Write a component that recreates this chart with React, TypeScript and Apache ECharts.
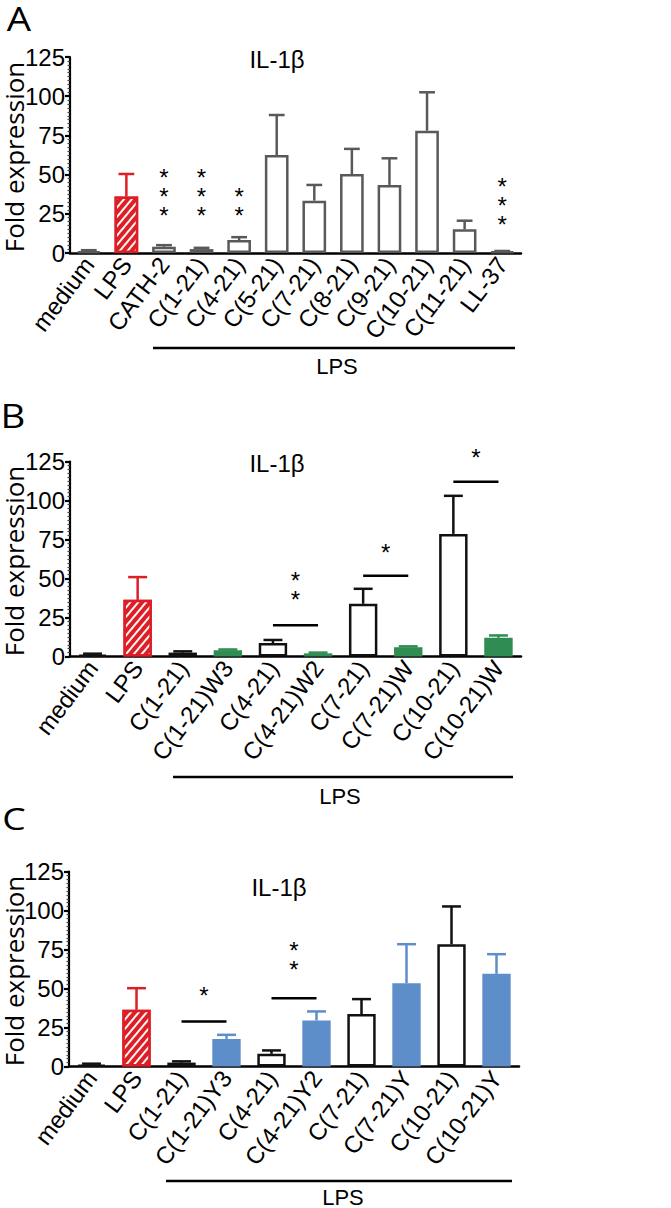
import React, { useEffect, useRef } from "react";
import * as echarts from "echarts";

// ---------- DATA ----------
const catsA = ["medium", "LPS", "CATH-2", "C(1-21)", "C(4-21)", "C(5-21)", "C(7-21)", "C(8-21)", "C(9-21)", "C(10-21)", "C(11-21)", "LL-37"];
const meanA = [1, 36, 4, 2.5, 8.3, 62.5, 33.4, 50.4, 43.4, 78, 15.1, 0.8];
const sdA = [0.8, 14.4, 1, 0.8, 1.8, 25.5, 10, 16, 17, 24.5, 5.5, 0.5];
const kindsA = ["ctrl", "lps", "open", "open", "open", "open", "open", "open", "open", "open", "open", "ctrl"];
// star stacks: [from, to, centre height, number of stars]
const starsA: [string, string, number, number][] = [
  ["CATH-2", "CATH-2", 39, 3],
  ["C(1-21)", "C(1-21)", 39, 3],
  ["C(4-21)", "C(4-21)", 33, 2],
  ["LL-37", "LL-37", 33.5, 3],
];

const catsB = ["medium", "LPS", "C(1-21)", "C(1-21)W3", "C(4-21)", "C(4-21)W2", "C(7-21)", "C(7-21)W", "C(10-21)", "C(10-21)W"];
const meanB = [1, 36.3, 2.5, 4, 8.6, 2, 33.8, 6, 78.6, 12];
const sdB = [0.8, 14.6, 0.8, 0.5, 2, 0.5, 9.6, 0.5, 24.4, 1.5];
const kindsB = ["ctrl", "lps", "open", "green", "open", "green", "open", "green", "open", "green"];
// significance bars: [from, to, height]
const sigLinesB: [string, string, number][] = [
  ["C(4-21)", "C(4-21)W2", 20],
  ["C(7-21)", "C(7-21)W", 51.7],
  ["C(10-21)", "C(10-21)W", 112],
];
const sigStarsB: [string, string, number, number][] = [
  ["C(4-21)", "C(4-21)W2", 46, 2],
  ["C(7-21)", "C(7-21)W", 69.7, 1],
  ["C(10-21)", "C(10-21)W", 130.6, 1],
];

const catsC = ["medium", "LPS", "C(1-21)", "C(1-21)Y3", "C(4-21)", "C(4-21)Y2", "C(7-21)", "C(7-21)Y", "C(10-21)", "C(10-21)Y"];
const meanC = [1, 36.3, 2.5, 17.7, 8.1, 29.5, 33.6, 53.4, 78.4, 59.4];
const sdC = [0.8, 13.9, 0.8, 2.6, 2.2, 5.8, 9.6, 25, 24.2, 12.6];
const kindsC = ["ctrl", "lps", "open", "blue", "open", "blue", "open", "blue", "open", "blue"];
const sigLinesC: [string, string, number][] = [
  ["C(1-21)", "C(1-21)Y3", 28.8],
  ["C(4-21)", "C(4-21)Y2", 43.8],
];
const sigStarsC: [string, string, number, number][] = [
  ["C(1-21)", "C(1-21)Y3", 48.7, 1],
  ["C(4-21)", "C(4-21)Y2", 71.4, 2],
];

const yTicks = [0, 25, 50, 75, 100, 125];

// ---------- STYLE / LAYOUT ----------
const SANS = '"Liberation Sans", Arial, sans-serif';
const NARROW = '"Liberation Sans Narrow", "Arial Narrow", "Liberation Sans", Arial, sans-serif';
const OPEN = '"Open Sans", sans-serif';
const RED = "#dc1f26";
const GREEN = "#2f8c52";
const BLUE = "#5e8ec9";

const panels = [
  { cats: catsA, means: meanA, sds: sdA, kinds: kindsA, edge: "#595959",
    stars: starsA, lines: [] as [string, string, number][],
    grid: { left: 70, top: 57, width: 451, height: 196 } },
  { cats: catsB, means: meanB, sds: sdB, kinds: kindsB, edge: "#111",
    stars: sigStarsB, lines: sigLinesB,
    grid: { left: 70, top: 461.5, width: 451, height: 195 } },
  { cats: catsC, means: meanC, sds: sdC, kinds: kindsC, edge: "#111",
    stars: sigStarsC, lines: sigLinesC,
    grid: { left: 69, top: 871.5, width: 450, height: 195 } },
];

function kindStyle(kind: string, edge: string) {
  switch (kind) {
    case "ctrl":
      return { color: edge, borderColor: edge, borderWidth: 2.5 };
    case "lps":
      return {
        color: RED, borderColor: RED, borderWidth: 2.5,
        decal: { symbol: "rect", symbolSize: 1, dashArrayX: [1, 0], dashArrayY: [1.6, 3.4], rotation: -Math.PI / 3.6, color: "rgba(255,255,255,0.95)" },
      };
    case "green":
      return { color: GREEN, borderColor: GREEN, borderWidth: 2.5 };
    case "blue":
      return { color: BLUE, borderColor: BLUE, borderWidth: 2.5 };
    default:
      return { color: "#fff", borderColor: edge, borderWidth: 2.5 };
  }
}
function errColor(kind: string, edge: string) {
  if (kind === "lps") return RED;
  if (kind === "green") return GREEN;
  if (kind === "blue") return BLUE;
  return edge;
}

function buildOption() {
  const grid: any[] = [];
  const xAxis: any[] = [];
  const yAxis: any[] = [];
  const series: any[] = [];

  panels.forEach((p, i) => {
    grid.push({ ...p.grid, containLabel: false });
    xAxis.push({
      type: "category", gridIndex: i, data: p.cats,
      axisLine: { lineStyle: { color: "#000", width: 2.5 } },
      axisTick: { alignWithLabel: true, length: 5, lineStyle: { color: "#000", width: 2.2 } },
      axisLabel: { rotate: 53, color: "#000", fontSize: 24, fontFamily: SANS, margin: 7, interval: 0 },
    });
    yAxis.push({
      type: "value", gridIndex: i, min: 0, max: 125, interval: 25,
      splitLine: { show: false },
      axisLine: { show: true, lineStyle: { color: "#000", width: 2.2 } },
      axisTick: { show: true, length: 5, lineStyle: { color: "#000", width: 2.2 } },
      minorTick: { show: true, splitNumber: 10, length: 2.5, lineStyle: { color: "#444", width: 1.2 } },
      axisLabel: { color: "#000", fontSize: 24, fontFamily: NARROW, margin: 5,
        formatter: (v: number) => (yTicks.includes(v) ? String(v) : "") },
    });

    series.push({
      type: "bar", xAxisIndex: i, yAxisIndex: i, barWidth: "63%", z: 2,
      data: p.means.map((m, j) => ({ value: m, itemStyle: kindStyle(p.kinds[j], p.edge) })),
    });

    series.push({
      type: "custom", xAxisIndex: i, yAxisIndex: i, z: 3,
      encode: { x: 0, y: 1 },
      data: p.means.map((m, j) => [j, m, p.sds[j]]),
      renderItem: (params: any, api: any) => {
        const j = api.value(0), m = api.value(1), s = api.value(2);
        const p0 = api.coord([j, m]);
        const p1 = api.coord([j, m + s]);
        const hw = (api.size([1, 0])[0] * 0.42) / 2;
        const c = errColor(p.kinds[j], p.edge);
        return {
          type: "group",
          children: [
            { type: "line", shape: { x1: p0[0], y1: p0[1], x2: p1[0], y2: p1[1] }, style: { stroke: c, lineWidth: 2.5 } },
            { type: "line", shape: { x1: p1[0] - hw, y1: p1[1], x2: p1[0] + hw, y2: p1[1] }, style: { stroke: c, lineWidth: 2.5 } },
          ],
        };
      },
    });

    if (p.lines.length) {
      series.push({
        type: "custom", xAxisIndex: i, yAxisIndex: i, z: 4, clip: false,
        encode: { x: [0, 1], y: 2 },
        data: p.lines.map(([a, b, y]) => [p.cats.indexOf(a), p.cats.indexOf(b), y]),
        renderItem: (params: any, api: any) => {
          const a = api.coord([api.value(0), api.value(2)]);
          const b = api.coord([api.value(1), api.value(2)]);
          return { type: "line", shape: { x1: a[0], y1: a[1], x2: b[0], y2: b[1] }, style: { stroke: "#000", lineWidth: 2.5 } };
        },
      });
    }
    series.push({
      type: "custom", xAxisIndex: i, yAxisIndex: i, z: 4, clip: false,
      encode: { x: [0, 1], y: 2 },
      data: p.stars.map(([a, b, y, n]) => [p.cats.indexOf(a), p.cats.indexOf(b), y, n]),
      renderItem: (params: any, api: any) => {
        const a = api.coord([api.value(0), api.value(2)]);
        const b = api.coord([api.value(1), api.value(2)]);
        const n = api.value(3);
        return {
          type: "text", x: (a[0] + b[0]) / 2, y: a[1] + 5,
          style: { text: Array(n).fill("*").join("\n"), fill: "#000", font: `24px ${SANS}`, lineHeight: 19,
            align: "center", verticalAlign: "middle" },
        };
      },
    });
  });

  const txt = (text: string, x: number, y: number, font: string, extra: any = {}) => ({
    type: "text", x, y, ...extra,
    style: { text, fill: "#000", font, align: "center", verticalAlign: "middle" },
  });
  const hline = (x1: number, x2: number, y: number) => ({
    type: "line", shape: { x1, y1: y, x2, y2: y }, style: { stroke: "#000", lineWidth: 2.5 },
  });

  const graphic: any[] = [
    // panel letters
    txt("A", 19, 18, `32px ${OPEN}`, { scaleX: 1.2 }),
    txt("B", 13, 415, `32px ${OPEN}`, { scaleX: 1.2 }),
    txt("C", 14, 818, `31px ${OPEN}`, { scaleX: 1.2 }),
    // y-axis titles
    txt("Fold expression", 13.5, 157, `26px ${OPEN}`, { rotation: Math.PI / 2 }),
    txt("Fold expression", 13.5, 561, `26px ${OPEN}`, { rotation: Math.PI / 2 }),
    txt("Fold expression", 13.5, 971, `26px ${OPEN}`, { rotation: Math.PI / 2 }),
    // panel titles
    txt("IL-1β", 277, 59, `24px ${NARROW}`),
    txt("IL-1β", 277, 463, `24px ${NARROW}`),
    txt("IL-1β", 279, 887, `24px ${NARROW}`),
    // LPS brackets
    hline(153, 515, 348), txt("LPS", 337, 366, `22px ${NARROW}`),
    hline(173, 513, 777), txt("LPS", 340, 796, `22px ${NARROW}`),
    hline(166, 512, 1181), txt("LPS", 343, 1197, `22px ${NARROW}`),
  ];

  return { animation: false, backgroundColor: "#fff", grid, xAxis, yAxis, series, graphic };
}

export default function App() {
  const ref = useRef<HTMLDivElement>(null);
  useEffect(() => {
    document.body.style.margin = "0";
    const chart = echarts.init(ref.current!, null, { renderer: "svg" });
    chart.setOption(buildOption() as any);
    return () => chart.dispose();
  }, []);
  return <div ref={ref} style={{ width: 671, height: 1208 }} />;
}
